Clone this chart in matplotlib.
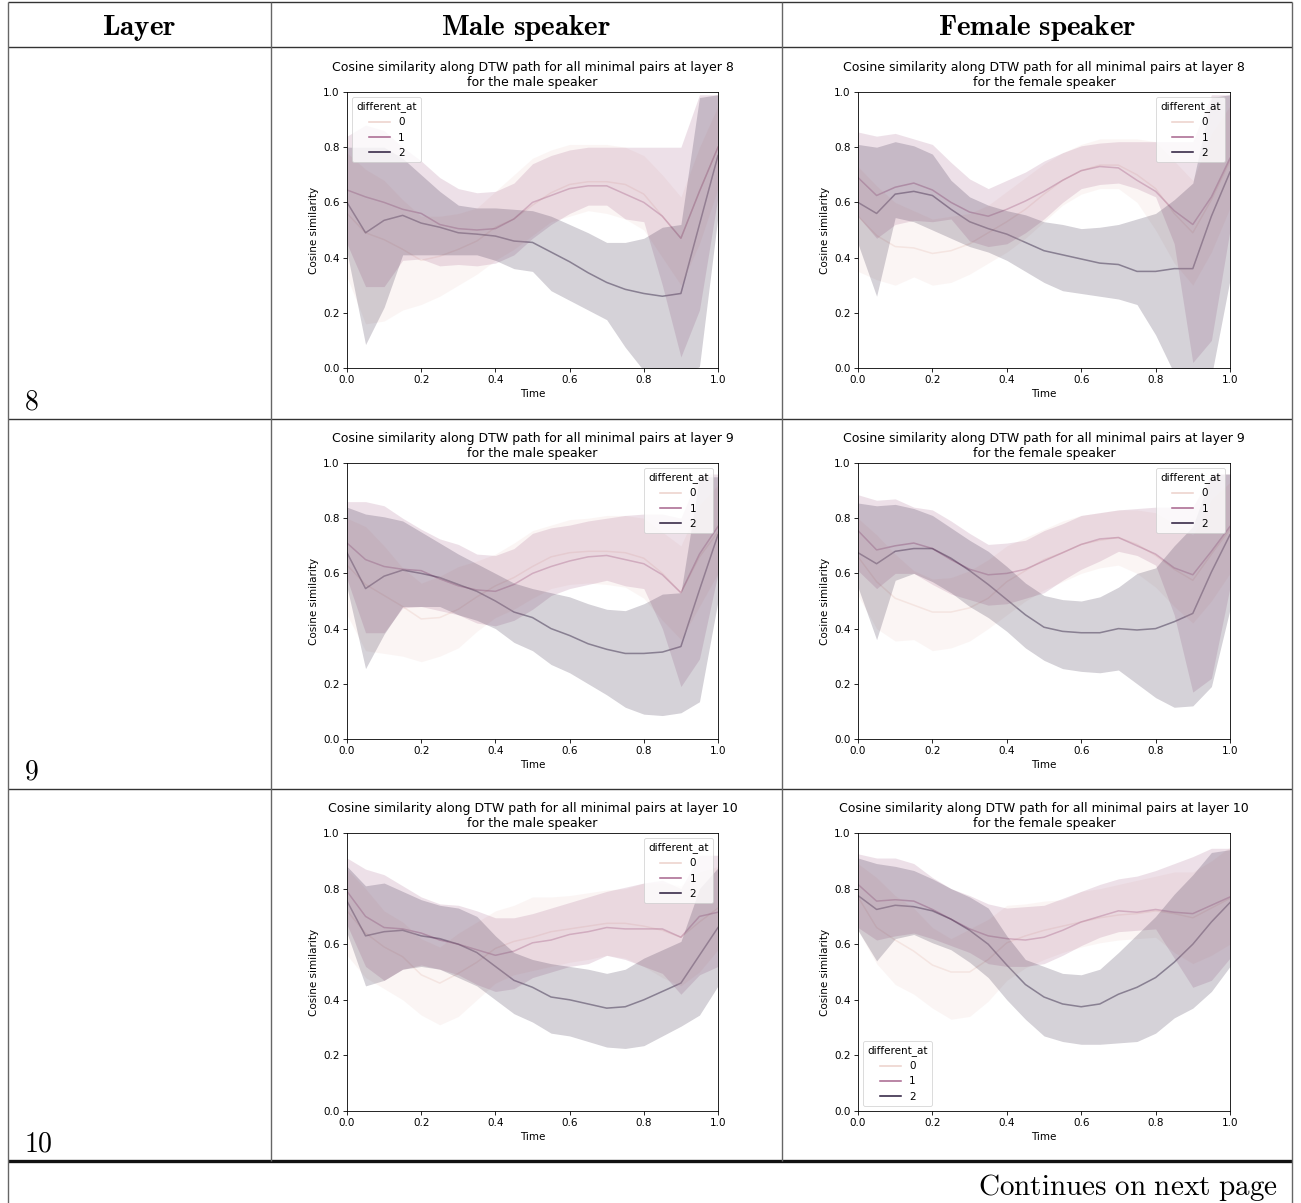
import matplotlib
matplotlib.use("Agg")
import matplotlib.pyplot as plt
from matplotlib.lines import Line2D
import seaborn as sns

plt.rcParams['mathtext.fontset'] = 'cm'

# time grid along the DTW path
time = [0.0, 0.05, 0.1, 0.15, 0.2, 0.25, 0.3, 0.35, 0.4, 0.45, 0.5,
        0.55, 0.6, 0.65, 0.7, 0.75, 0.8, 0.85, 0.9, 0.95, 1.0]
levels = [0, 1, 2]
layers = [8, 9, 10]

# male speaker, layer 8  (one list per different_at level)
m8_mean = [[0.56, 0.49, 0.465, 0.43, 0.39, 0.405, 0.43, 0.46, 0.51, 0.54, 0.59, 0.635, 0.665, 0.675, 0.675, 0.665, 0.63, 0.55, 0.47, 0.64, 0.80],
           [0.645, 0.62, 0.60, 0.575, 0.56, 0.52, 0.505, 0.50, 0.505, 0.54, 0.60, 0.625, 0.65, 0.66, 0.66, 0.63, 0.60, 0.55, 0.47, 0.64, 0.80],
           [0.60, 0.49, 0.535, 0.553, 0.525, 0.51, 0.49, 0.485, 0.478, 0.46, 0.455, 0.42, 0.385, 0.345, 0.31, 0.285, 0.27, 0.26, 0.27, 0.52, 0.77]]
m8_lo = [[0.33, 0.16, 0.17, 0.21, 0.23, 0.26, 0.30, 0.34, 0.39, 0.43, 0.48, 0.53, 0.55, 0.57, 0.56, 0.54, 0.50, 0.40, 0.30, 0.45, 0.65],
         [0.45, 0.295, 0.295, 0.39, 0.395, 0.37, 0.375, 0.37, 0.38, 0.41, 0.47, 0.52, 0.56, 0.59, 0.59, 0.54, 0.53, 0.30, 0.04, 0.21, 0.62],
         [0.42, 0.085, 0.22, 0.41, 0.41, 0.41, 0.41, 0.41, 0.39, 0.36, 0.35, 0.28, 0.245, 0.21, 0.175, 0.075, -0.01, -0.03, -0.03, 0.005, 0.55]]
m8_hi = [[0.78, 0.72, 0.68, 0.61, 0.55, 0.55, 0.56, 0.58, 0.64, 0.70, 0.76, 0.79, 0.81, 0.81, 0.81, 0.80, 0.77, 0.70, 0.62, 0.80, 0.95],
         [0.84, 0.88, 0.86, 0.80, 0.75, 0.69, 0.65, 0.635, 0.64, 0.67, 0.74, 0.77, 0.79, 0.80, 0.80, 0.80, 0.80, 0.80, 0.80, 0.99, 0.99],
         [0.80, 0.80, 0.80, 0.76, 0.70, 0.64, 0.59, 0.58, 0.58, 0.575, 0.57, 0.55, 0.52, 0.49, 0.455, 0.455, 0.47, 0.51, 0.52, 0.98, 0.99]]

# female speaker, layer 8
f8_mean = [[0.55, 0.48, 0.44, 0.435, 0.415, 0.425, 0.45, 0.49, 0.53, 0.575, 0.63, 0.68, 0.715, 0.735, 0.735, 0.70, 0.65, 0.56, 0.49, 0.61, 0.75],
           [0.69, 0.625, 0.655, 0.67, 0.645, 0.60, 0.565, 0.55, 0.575, 0.605, 0.64, 0.68, 0.715, 0.73, 0.725, 0.68, 0.64, 0.57, 0.52, 0.62, 0.76],
           [0.60, 0.56, 0.63, 0.64, 0.625, 0.575, 0.53, 0.505, 0.485, 0.455, 0.425, 0.41, 0.395, 0.38, 0.375, 0.35, 0.35, 0.36, 0.36, 0.55, 0.71]]
f8_lo = [[0.35, 0.32, 0.30, 0.33, 0.30, 0.31, 0.34, 0.38, 0.42, 0.47, 0.53, 0.59, 0.63, 0.65, 0.65, 0.60, 0.50, 0.38, 0.30, 0.42, 0.58],
         [0.55, 0.47, 0.52, 0.535, 0.53, 0.54, 0.46, 0.44, 0.45, 0.49, 0.54, 0.60, 0.65, 0.665, 0.67, 0.65, 0.62, 0.45, 0.02, 0.10, 0.50],
         [0.45, 0.26, 0.545, 0.53, 0.50, 0.47, 0.44, 0.42, 0.39, 0.35, 0.31, 0.28, 0.27, 0.26, 0.25, 0.23, 0.12, -0.02, -0.05, -0.03, 0.32]]
f8_hi = [[0.73, 0.66, 0.60, 0.57, 0.54, 0.55, 0.56, 0.59, 0.64, 0.69, 0.74, 0.78, 0.81, 0.83, 0.83, 0.83, 0.82, 0.75, 0.68, 0.85, 0.95],
         [0.855, 0.84, 0.85, 0.83, 0.81, 0.745, 0.685, 0.65, 0.68, 0.71, 0.75, 0.78, 0.805, 0.815, 0.82, 0.82, 0.82, 0.82, 0.82, 0.99, 0.99],
         [0.81, 0.80, 0.82, 0.805, 0.775, 0.68, 0.62, 0.59, 0.57, 0.555, 0.53, 0.52, 0.505, 0.51, 0.52, 0.54, 0.56, 0.61, 0.67, 0.98, 0.99]]

# male speaker, layer 9
m9_mean = [[0.63, 0.56, 0.52, 0.48, 0.435, 0.44, 0.47, 0.515, 0.555, 0.585, 0.625, 0.66, 0.675, 0.68, 0.68, 0.675, 0.655, 0.60, 0.53, 0.66, 0.75],
           [0.71, 0.65, 0.625, 0.615, 0.61, 0.58, 0.555, 0.54, 0.535, 0.56, 0.60, 0.625, 0.645, 0.66, 0.665, 0.65, 0.635, 0.595, 0.53, 0.67, 0.77],
           [0.675, 0.545, 0.59, 0.612, 0.60, 0.585, 0.56, 0.535, 0.50, 0.46, 0.44, 0.40, 0.375, 0.345, 0.325, 0.31, 0.31, 0.315, 0.335, 0.54, 0.74]]
m9_lo = [[0.45, 0.32, 0.31, 0.30, 0.28, 0.30, 0.33, 0.39, 0.44, 0.47, 0.51, 0.545, 0.56, 0.565, 0.56, 0.55, 0.51, 0.43, 0.36, 0.48, 0.60],
         [0.58, 0.385, 0.385, 0.475, 0.48, 0.465, 0.45, 0.42, 0.41, 0.43, 0.47, 0.52, 0.545, 0.56, 0.575, 0.555, 0.545, 0.40, 0.19, 0.29, 0.60],
         [0.55, 0.255, 0.38, 0.48, 0.48, 0.48, 0.45, 0.43, 0.40, 0.35, 0.32, 0.27, 0.24, 0.20, 0.16, 0.115, 0.09, 0.085, 0.095, 0.135, 0.50]]
m9_hi = [[0.80, 0.77, 0.70, 0.62, 0.565, 0.59, 0.625, 0.645, 0.67, 0.71, 0.755, 0.775, 0.795, 0.80, 0.81, 0.81, 0.80, 0.75, 0.70, 0.85, 0.92],
         [0.86, 0.86, 0.845, 0.80, 0.76, 0.725, 0.705, 0.67, 0.665, 0.69, 0.745, 0.765, 0.775, 0.79, 0.80, 0.81, 0.815, 0.815, 0.80, 0.96, 0.96],
         [0.84, 0.815, 0.805, 0.79, 0.75, 0.71, 0.67, 0.635, 0.60, 0.565, 0.545, 0.53, 0.515, 0.49, 0.47, 0.465, 0.49, 0.525, 0.53, 0.95, 0.95]]

# female speaker, layer 9
f9_mean = [[0.66, 0.57, 0.51, 0.485, 0.46, 0.46, 0.475, 0.51, 0.57, 0.61, 0.65, 0.675, 0.705, 0.72, 0.73, 0.705, 0.665, 0.615, 0.575, 0.67, 0.76],
           [0.755, 0.685, 0.70, 0.71, 0.69, 0.65, 0.615, 0.595, 0.60, 0.615, 0.645, 0.675, 0.705, 0.725, 0.73, 0.70, 0.67, 0.62, 0.595, 0.68, 0.77],
           [0.675, 0.635, 0.68, 0.69, 0.69, 0.655, 0.61, 0.56, 0.505, 0.45, 0.405, 0.39, 0.385, 0.385, 0.40, 0.395, 0.40, 0.425, 0.455, 0.605, 0.74]]
f9_lo = [[0.52, 0.40, 0.355, 0.36, 0.32, 0.33, 0.355, 0.40, 0.45, 0.50, 0.54, 0.57, 0.60, 0.62, 0.63, 0.60, 0.55, 0.48, 0.42, 0.50, 0.60],
         [0.61, 0.545, 0.60, 0.60, 0.56, 0.525, 0.505, 0.485, 0.49, 0.51, 0.53, 0.575, 0.615, 0.645, 0.68, 0.665, 0.63, 0.45, 0.17, 0.22, 0.55],
         [0.55, 0.36, 0.575, 0.60, 0.57, 0.53, 0.48, 0.44, 0.39, 0.33, 0.285, 0.255, 0.245, 0.24, 0.25, 0.20, 0.15, 0.115, 0.12, 0.19, 0.47]]
f9_hi = [[0.80, 0.74, 0.67, 0.61, 0.58, 0.585, 0.61, 0.65, 0.70, 0.73, 0.76, 0.79, 0.81, 0.82, 0.83, 0.83, 0.82, 0.78, 0.74, 0.87, 0.93],
         [0.885, 0.865, 0.87, 0.84, 0.83, 0.79, 0.745, 0.705, 0.71, 0.72, 0.755, 0.78, 0.81, 0.82, 0.83, 0.835, 0.84, 0.84, 0.84, 0.96, 0.96],
         [0.855, 0.845, 0.85, 0.835, 0.81, 0.765, 0.72, 0.68, 0.625, 0.565, 0.52, 0.505, 0.50, 0.515, 0.55, 0.60, 0.62, 0.70, 0.77, 0.96, 0.96]]

# male speaker, layer 10
m10_mean = [[0.72, 0.64, 0.59, 0.555, 0.49, 0.46, 0.495, 0.535, 0.585, 0.61, 0.625, 0.645, 0.655, 0.665, 0.675, 0.675, 0.665, 0.65, 0.625, 0.68, 0.73],
            [0.79, 0.70, 0.66, 0.655, 0.64, 0.615, 0.60, 0.58, 0.56, 0.575, 0.605, 0.615, 0.635, 0.645, 0.66, 0.655, 0.655, 0.655, 0.625, 0.70, 0.715],
            [0.755, 0.63, 0.645, 0.65, 0.63, 0.62, 0.60, 0.57, 0.52, 0.47, 0.445, 0.41, 0.40, 0.385, 0.37, 0.375, 0.40, 0.43, 0.46, 0.56, 0.66]]
m10_lo = [[0.56, 0.48, 0.44, 0.40, 0.345, 0.31, 0.34, 0.40, 0.46, 0.49, 0.505, 0.52, 0.535, 0.545, 0.56, 0.55, 0.52, 0.48, 0.45, 0.50, 0.58],
          [0.67, 0.52, 0.47, 0.51, 0.525, 0.51, 0.49, 0.455, 0.43, 0.44, 0.48, 0.50, 0.52, 0.53, 0.56, 0.545, 0.52, 0.495, 0.42, 0.49, 0.52],
          [0.64, 0.45, 0.47, 0.51, 0.52, 0.51, 0.48, 0.45, 0.40, 0.35, 0.32, 0.28, 0.27, 0.25, 0.23, 0.225, 0.235, 0.27, 0.305, 0.345, 0.45]]
m10_hi = [[0.87, 0.80, 0.72, 0.68, 0.62, 0.59, 0.64, 0.68, 0.72, 0.74, 0.77, 0.77, 0.775, 0.785, 0.795, 0.80, 0.82, 0.82, 0.81, 0.86, 0.88],
          [0.91, 0.87, 0.85, 0.81, 0.77, 0.745, 0.74, 0.72, 0.695, 0.695, 0.71, 0.73, 0.75, 0.77, 0.79, 0.805, 0.82, 0.83, 0.80, 0.92, 0.92],
          [0.88, 0.81, 0.82, 0.79, 0.76, 0.74, 0.73, 0.70, 0.63, 0.57, 0.545, 0.53, 0.52, 0.51, 0.495, 0.51, 0.55, 0.58, 0.61, 0.80, 0.875]]

# female speaker, layer 10
f10_mean = [[0.77, 0.66, 0.615, 0.575, 0.525, 0.50, 0.50, 0.545, 0.605, 0.63, 0.65, 0.665, 0.68, 0.695, 0.705, 0.71, 0.72, 0.71, 0.695, 0.73, 0.765],
            [0.815, 0.755, 0.76, 0.755, 0.725, 0.69, 0.655, 0.63, 0.62, 0.615, 0.625, 0.65, 0.68, 0.70, 0.72, 0.715, 0.725, 0.715, 0.71, 0.74, 0.77],
            [0.775, 0.725, 0.74, 0.735, 0.72, 0.69, 0.65, 0.60, 0.525, 0.455, 0.41, 0.385, 0.375, 0.385, 0.42, 0.445, 0.48, 0.535, 0.60, 0.68, 0.75]]
f10_lo = [[0.65, 0.53, 0.455, 0.42, 0.37, 0.33, 0.34, 0.395, 0.47, 0.515, 0.545, 0.57, 0.59, 0.605, 0.615, 0.62, 0.625, 0.57, 0.53, 0.56, 0.60],
          [0.66, 0.615, 0.63, 0.64, 0.62, 0.595, 0.57, 0.53, 0.52, 0.52, 0.53, 0.56, 0.595, 0.625, 0.645, 0.65, 0.655, 0.55, 0.445, 0.47, 0.55],
          [0.65, 0.54, 0.62, 0.635, 0.605, 0.58, 0.535, 0.48, 0.40, 0.33, 0.27, 0.25, 0.24, 0.24, 0.245, 0.25, 0.28, 0.335, 0.37, 0.43, 0.52]]
f10_hi = [[0.89, 0.84, 0.775, 0.73, 0.66, 0.62, 0.655, 0.69, 0.74, 0.745, 0.755, 0.76, 0.79, 0.80, 0.815, 0.83, 0.845, 0.86, 0.86, 0.90, 0.95],
          [0.925, 0.91, 0.91, 0.89, 0.84, 0.80, 0.775, 0.745, 0.73, 0.735, 0.74, 0.765, 0.79, 0.815, 0.835, 0.845, 0.865, 0.89, 0.915, 0.945, 0.945],
          [0.91, 0.89, 0.88, 0.865, 0.835, 0.80, 0.77, 0.73, 0.63, 0.545, 0.52, 0.495, 0.49, 0.51, 0.57, 0.635, 0.70, 0.78, 0.85, 0.93, 0.94]]

# seaborn's default numeric hue colormap
cmap = sns.cubehelix_palette(as_cmap=True)
colors = [cmap(l / 2) for l in levels]

W, H = 1301, 1203
fig = plt.figure(figsize=(W / 100, H / 100), dpi=100)


def fx(px):
    return px / W


def fy(py):
    return 1 - py / H


def hline(x0, x1, y, lw=1.0, color='#333333'):
    fig.add_artist(Line2D([fx(x0), fx(x1)], [fy(y), fy(y)], transform=fig.transFigure,
                          color=color, lw=lw, solid_capstyle='butt'))


def vline(x, y0, y1, lw=1.0, color='#666666'):
    fig.add_artist(Line2D([fx(x), fx(x)], [fy(y0), fy(y1)], transform=fig.transFigure,
                          color=color, lw=lw, solid_capstyle='butt'))


# table frame
row_y = [2, 47, 419, 789, 1161]
hline(8, 1292, 2)
hline(8, 1292, 47)
hline(8, 1292, 419)
hline(8, 1292, 789)
hline(8, 1292, 1161, lw=2.4, color='#111111')
for x in [8, 1292]:
    vline(x, 2, 1203)
for x in [271, 782]:
    vline(x, 2, 1161)

# header and row labels
fig.text(fx(139), fy(28), r'$\mathbf{Layer}$', ha='center', va='center', fontsize=21)
fig.text(fx(526), fy(28), r'$\mathbf{Male\ speaker}$', ha='center', va='center', fontsize=21)
fig.text(fx(1037), fy(28), r'$\mathbf{Female\ speaker}$', ha='center', va='center', fontsize=21)
for i, layer in enumerate(layers):
    fig.text(fx(24), fy(row_y[i + 2] - 10), r'$\mathrm{%d}$' % layer, ha='left', va='baseline', fontsize=20)
fig.text(fx(1278), fy(1195), r'$\mathrm{Continues\ on\ next\ page}$', ha='right', va='baseline', fontsize=21)

panels = [
    (m8_mean, m8_lo, m8_hi, 8, 'male', 0, 0, 'upper left'),
    (f8_mean, f8_lo, f8_hi, 8, 'female', 1, 0, 'upper right'),
    (m9_mean, m9_lo, m9_hi, 9, 'male', 0, 1, 'upper right'),
    (f9_mean, f9_lo, f9_hi, 9, 'female', 1, 1, 'upper right'),
    (m10_mean, m10_lo, m10_hi, 10, 'male', 0, 2, 'upper right'),
    (f10_mean, f10_lo, f10_hi, 10, 'female', 1, 2, 'lower left'),
]
ax_left = [347, 858]
ax_right = [718, 1230]
ax_top = [92, 463, 833]
ax_bottom = [368, 739, 1111]

s = 0.75
for mean, lo, hi, layer, speaker, c, r, loc in panels:
    ax = fig.add_axes([fx(ax_left[c]), fy(ax_bottom[r]),
                       (ax_right[c] - ax_left[c]) / W, (ax_bottom[r] - ax_top[r]) / H])
    for k in levels:
        # the mean lines come out washed out in the original, under the bands
        ax.plot(time, mean[k], color=colors[k], lw=1.5 * s, alpha=0.45, zorder=0.5)
        ax.fill_between(time, lo[k], hi[k], color=colors[k], alpha=0.2, lw=0, zorder=1)
    ax.set_xlim(0, 1)
    ax.set_ylim(0, 1)
    ax.set_xticks([0, 0.2, 0.4, 0.6, 0.8, 1.0])
    ax.set_yticks([0, 0.2, 0.4, 0.6, 0.8, 1.0])
    ax.tick_params(labelsize=10 * s, length=3.5 * s, width=0.8 * s, pad=3.5 * s)
    for sp in ax.spines.values():
        sp.set_linewidth(0.8 * s)
    ax.set_xlabel('Time', fontsize=10 * s, labelpad=4 * s)
    ax.set_ylabel('Cosine similarity', fontsize=10 * s, labelpad=4 * s)
    ax.set_title('Cosine similarity along DTW path for all minimal pairs at layer %d\nfor the %s speaker'
                 % (layer, speaker), fontsize=12 * s, pad=6 * s)
    handles = [Line2D([0], [0], color=colors[k], lw=1.5 * s) for k in levels]
    leg = ax.legend(handles, [str(k) for k in levels], title='different_at', loc=loc,
                    fontsize=10 * s, title_fontsize=10 * s, borderpad=0.4, handlelength=2.0)
    leg.get_frame().set_linewidth(0.8 * s)

fig.savefig('out.png', dpi=100)
